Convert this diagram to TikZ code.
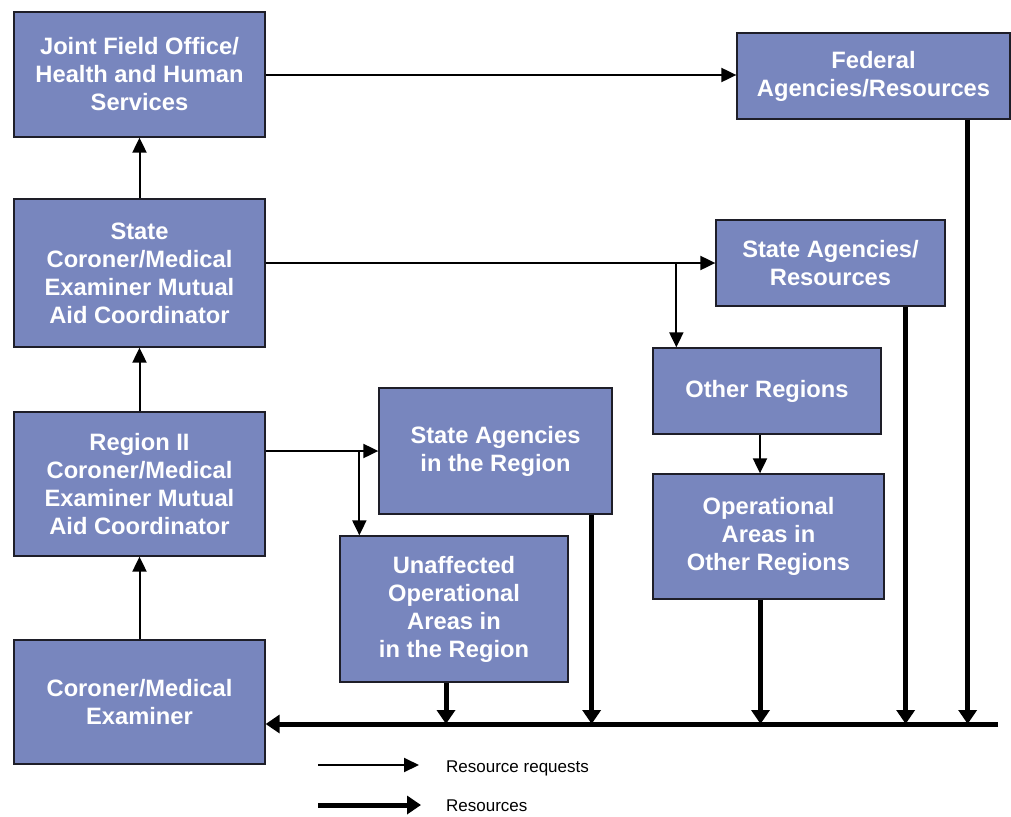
\documentclass[tikz,border=0pt]{standalone}
\usepackage{fontspec}
\setmainfont{Liberation Sans}
\usetikzlibrary{arrows.meta,calc}
\definecolor{boxfill}{HTML}{7886BE}
\definecolor{boxline}{HTML}{1E1E28}
\begin{document}
\begin{tikzpicture}[x=1pt,y=-1pt,
  box/.style={draw=boxline,line width=1.3pt,fill=boxfill,inner sep=0pt,align=center,
    text=white,font=\bfseries\fontsize{23.7}{28}\selectfont},
  req/.style={line width=2pt,-{Triangle[length=15pt,width=14pt]}},
  res/.style={line width=5pt,-{Triangle[length=14pt,width=18pt]}},
  lbl/.style={font=\fontsize{17}{20}\selectfont,anchor=west,inner sep=0pt}]
\useasboundingbox (0,0) rectangle (1011,816);
\fill[white] (0,0) rectangle (1011,816);
% boxes
\node[box,minimum width=251,minimum height=125] (jfo) at (139.5,74.5) {Joint Field Office/\\Health and Human\\Services};
\node[box,minimum width=273,minimum height=86] (fed) at (873.5,76) {Federal\\Agencies/Resources};
\node[box,minimum width=251,minimum height=148] (sc) at (139.5,273) {State\\Coroner/Medical\\Examiner Mutual\\Aid Coordinator};
\node[box,minimum width=229,minimum height=86] (sares) at (830.5,263) {State Agencies/\\Resources};
\node[box,minimum width=228,minimum height=86] (oreg) at (767,391) {Other Regions};
\node[box,minimum width=251,minimum height=144] (r2) at (139.5,484) {Region II\\Coroner/Medical\\Examiner Mutual\\Aid Coordinator};
\node[box,minimum width=233,minimum height=126] (sar) at (495.5,451) {State Agencies\\in the Region};
\node[box,minimum width=228,minimum height=146] (una) at (454,609) {Unaffected\\Operational\\Areas in\\in the Region};
\node[box,minimum width=231,minimum height=125] (opa) at (768.5,536.5) {Operational\\Areas in\\Other Regions};
\node[box,minimum width=251,minimum height=124] (cme) at (139.5,702) {Coroner/Medical\\Examiner};
% request arrows
\draw[req] (jfo.east |- 0,75) -- (fed.west |- 0,75);
\draw[req] (sc.north) -- (jfo.south);
\draw[req] (r2.north) -- (sc.south);
\draw[req] (cme.north) -- (r2.south);
\draw[req] (sc.east |- sares.west) -- (sares.west);
\coordinate (b1) at ($(sares.west -| oreg.north west)+(24,0)$);
\draw[req] (b1) -- (b1 |- oreg.north);
\coordinate (b3) at ($(oreg.south)+(-7,0)$);
\draw[req] (b3) -- (b3 |- opa.north);
\draw[req] (r2.east |- sar.west) -- (sar.west);
\coordinate (b2) at ($(sar.west)+(-19,0)$);
\draw[req] (b2) -- (b2 |- una.north);
% resources
\coordinate (busR) at (998,724);
\draw[res] (busR) -- (cme.east |- busR);
\draw[res] ([xshift=-8]una.south) -- ([xshift=-8]una.south |- busR);
\draw[res] ([xshift=-21]sar.south east) -- ([xshift=-21]sar.south east |- busR);
\draw[res] ([xshift=-8]opa.south) -- ([xshift=-8]opa.south |- busR);
\draw[res] ([xshift=-40]sares.south east) -- ([xshift=-40]sares.south east |- busR);
\draw[res] ([xshift=-43]fed.south east) -- ([xshift=-43]fed.south east |- busR);
% legend
\coordinate (l1a) at (318,765);
\coordinate (l1b) at (419,765);
\coordinate (l2a) at (318,805);
\coordinate (l2b) at (421,805);
\draw[req] (l1a) -- (l1b);
\draw[res] (l2a) -- (l2b);
\node[lbl] (t1) at (446,768) {Resource requests};
\node[lbl] (t2) at (446,806) {Resources};
\end{tikzpicture}
\end{document}
